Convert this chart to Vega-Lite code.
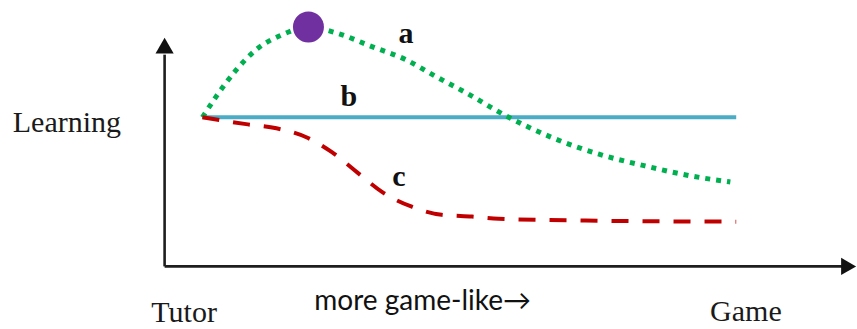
{
  "$schema": "https://vega.github.io/schema/vega-lite/v6.json",
  "width": 857,
  "height": 329,
  "autosize": {"type": "fit", "contains": "padding"},
  "padding": 0,
  "background": "white",
  "config": {"view": {"stroke": null}},
  "datasets": {
    "axes": [
      {"x": -7.1, "y": 0, "x2": -7.1, "y2": 71},
      {"x": -7.1, "y": 0, "x2": 120.8, "y2": 0}
    ],
    "arrowUp": [{"x": -7.1, "y": 74}],
    "arrowRight": [{"x": 121.3, "y": 0}],
    "curveA": [
      {"x": 0, "y": 50},
      {"x": 2.6, "y": 57},
      {"x": 6.4, "y": 66},
      {"x": 10.1, "y": 72.7},
      {"x": 15.0, "y": 77.7},
      {"x": 19.9, "y": 80.3},
      {"x": 25.1, "y": 78.3},
      {"x": 31.8, "y": 73.7},
      {"x": 38.2, "y": 69.3},
      {"x": 43.8, "y": 63.7},
      {"x": 49.4, "y": 58.3},
      {"x": 57.5, "y": 50},
      {"x": 65.5, "y": 43.3},
      {"x": 74.3, "y": 37.7},
      {"x": 83.1, "y": 33.7},
      {"x": 91.8, "y": 30.3},
      {"x": 99.1, "y": 28.3}
    ],
    "curveB": [{"x": 0, "y": 50, "x2": 100.2}],
    "curveC": [
      {"x": 0, "y": 50},
      {"x": 8.2, "y": 47.7},
      {"x": 13.9, "y": 46.3},
      {"x": 19.5, "y": 43.3},
      {"x": 24.3, "y": 38.3},
      {"x": 29.4, "y": 31},
      {"x": 33.7, "y": 25},
      {"x": 39.3, "y": 20},
      {"x": 44.9, "y": 17.3},
      {"x": 50.6, "y": 16.7},
      {"x": 55.6, "y": 16},
      {"x": 74.3, "y": 15.3},
      {"x": 100.2, "y": 15}
    ],
    "peak": [{"x": 19.9, "y": 80.3}],
    "serifLabels": [
      {"x": -35.6, "y": 45, "label": "Learning"},
      {"x": -9.6, "y": -18.7, "label": "Tutor"},
      {"x": 95.3, "y": -18.3, "label": "Game"}
    ],
    "curveLabels": [
      {"x": 38.2, "y": 75, "label": "a"},
      {"x": 27.5, "y": 53.7, "label": "b"},
      {"x": 36.9, "y": 27, "label": "c"}
    ],
    "direction": [{"x": 21.0, "y": -14.7, "label": "more game-like→"}]
  },
  "encoding": {
    "x": {"field": "x", "type": "quantitative", "axis": null,
          "scale": {"domain": [-38, 122.5], "nice": false, "zero": false}},
    "y": {"field": "y", "type": "quantitative", "axis": null,
          "scale": {"domain": [-20.33, 89.33], "nice": false, "zero": false}}
  },
  "layer": [
    {
      "data": {"name": "axes"},
      "mark": {"type": "rule", "color": "#1e1e1e", "strokeWidth": 2.6},
      "encoding": {
        "x2": {"field": "x2"},
        "y2": {"field": "y2"}
      }
    },
    {
      "data": {"name": "arrowUp"},
      "mark": {"type": "point", "shape": "triangle-up", "filled": true, "color": "#111", "size": 330, "opacity": 1}
    },
    {
      "data": {"name": "arrowRight"},
      "mark": {"type": "point", "shape": "triangle-right", "filled": true, "color": "#111", "size": 300, "opacity": 1}
    },
    {
      "data": {"name": "curveB"},
      "mark": {"type": "rule", "color": "#4BACC6", "strokeWidth": 4},
      "encoding": {"x2": {"field": "x2"}}
    },
    {
      "data": {"name": "curveA"},
      "mark": {"type": "line", "color": "#00B050", "strokeWidth": 5, "strokeDash": [5, 6], "strokeCap": "butt", "interpolate": "monotone"},
      "encoding": {"order": {"field": "x", "type": "quantitative"}}
    },
    {
      "data": {"name": "curveC"},
      "mark": {"type": "line", "color": "#C00000", "strokeWidth": 4, "strokeDash": [17, 14], "strokeCap": "butt", "interpolate": "monotone"},
      "encoding": {"order": {"field": "x", "type": "quantitative"}}
    },
    {
      "data": {"name": "peak"},
      "mark": {"type": "point", "shape": "circle", "filled": true, "color": "#7030A0", "size": 960, "opacity": 1}
    },
    {
      "data": {"name": "serifLabels"},
      "mark": {"type": "text", "font": "Liberation Serif", "fontSize": 30, "align": "left", "baseline": "alphabetic", "color": "#1a1a1a"},
      "encoding": {"text": {"field": "label"}}
    },
    {
      "data": {"name": "curveLabels"},
      "mark": {"type": "text", "font": "Liberation Serif", "fontSize": 30, "fontWeight": "bold", "align": "center", "baseline": "alphabetic", "color": "#111"},
      "encoding": {"text": {"field": "label"}}
    },
    {
      "data": {"name": "direction"},
      "mark": {"type": "text", "font": "Lato", "fontSize": 28, "align": "left", "baseline": "alphabetic", "color": "#111"},
      "encoding": {"text": {"field": "label"}}
    }
  ]
}
